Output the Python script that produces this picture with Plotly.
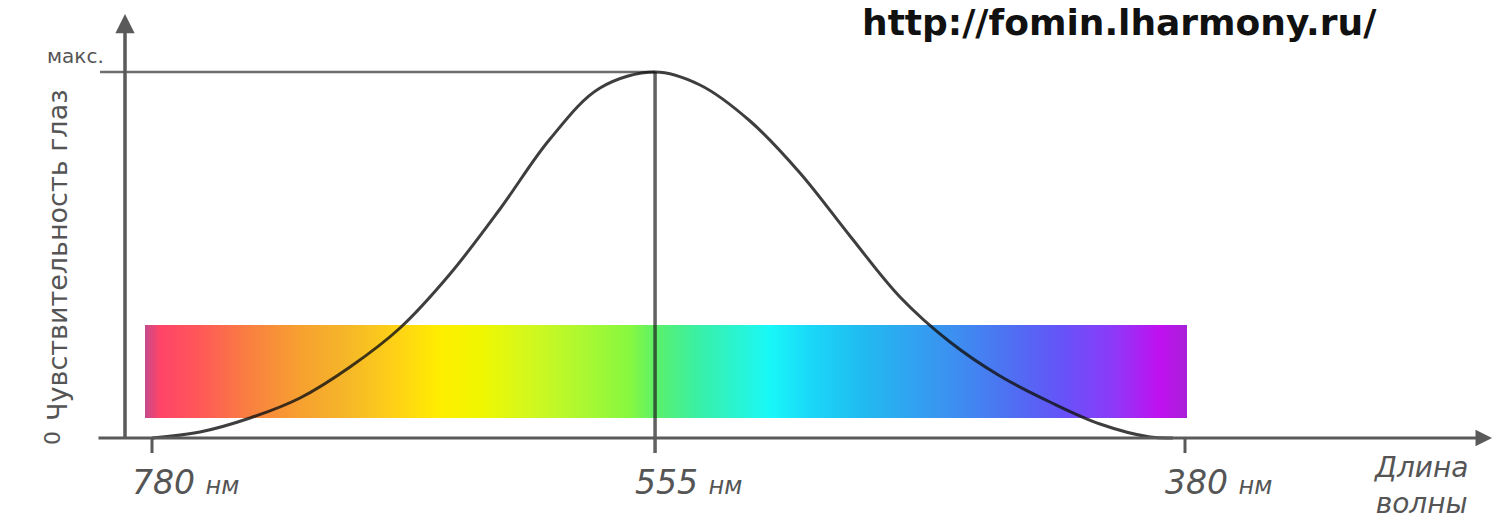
import plotly.graph_objects as go

# ---------------- data ----------------
# schematic wavelength axis: position 0 = 780 nm tick, 1 = 380 nm tick
WAVELENGTH_LABELS = ["780 нм", "555 нм", "380 нм"]
WAVELENGTH_POS = [0.0, 0.487, 1.0]
PEAK_POS = 0.487

# eye sensitivity curve (pixel readings, converted below)
CURVE_PX_X = [152, 200, 250, 300, 350, 400, 450, 500, 550, 600, 655,
              700, 750, 800, 850, 900, 950, 1000, 1050, 1100, 1150, 1173]
CURVE_PX_Y = [438, 432, 418, 398, 367, 328, 274, 209, 139, 88, 72,
              85, 121, 173, 236, 297, 342, 376, 402, 424, 437, 438]

# spectrum band colours (left = red, right = violet)
SPECTRUM_STOPS = [0.0, 0.0144, 0.0528, 0.1008, 0.1488, 0.1967, 0.2447, 0.2831,
                  0.3215, 0.3695, 0.4175, 0.4655, 0.4942, 0.5326, 0.5710, 0.5998,
                  0.6382, 0.6862, 0.7342, 0.7821, 0.8301, 0.8781, 0.9261, 0.9741, 1.0]
SPECTRUM_COLORS = ["#c44a8c", "#ff4468", "#ff5858", "#f98040", "#f7a030", "#f5b828",
                   "#ffd414", "#ffee00", "#f0f600", "#d2f81e", "#aef830", "#86f840",
                   "#58f070", "#38f0a8", "#28f4d4", "#18f8f8", "#1ad8f8", "#20bcf0",
                   "#30a4f0", "#3e8cf0", "#4e70f2", "#6454f8", "#8a3cf8", "#c010f0",
                   "#a820d8"]

Y_LABEL = "Чувствительность глаз"
Y_MAX_LABEL = "макс."
Y_ZERO_LABEL = "0"
X_TITLE = "<i>Длина<br>волны</i>"
URL_TEXT = "http://fomin.lharmony.ru/"

# ---------------- layout geometry ----------------
W, H = 1509, 520
X0_PX, X1_PX = 152, 1185          # pixel of position 0 and 1
Y0_PX, Y1_PX = 438, 72            # pixel of sensitivity 0 and 1
sx = (X1_PX - X0_PX)
sy = (Y0_PX - Y1_PX)
x_range = [-X0_PX / sx, (W - X0_PX) / sx]
y_range = [-(H - Y0_PX) / sy, Y0_PX / sy]


def px_x(p):
    return (p - X0_PX) / sx


def px_y(p):
    return (Y0_PX - p) / sy


curve_pos = [px_x(v) for v in CURVE_PX_X]
sensitivity = [px_y(v) for v in CURVE_PX_Y]

AXIS_COLOR = "#5a5a5a"
TEXT_COLOR = "#555555"

band_l, band_r = px_x(145), px_x(1187)
band_b, band_t = px_y(418), px_y(325)

fig = go.Figure()

# spectrum band
fig.add_trace(go.Scatter(
    x=[band_l, band_r, band_r, band_l, band_l],
    y=[band_b, band_b, band_t, band_t, band_b],
    mode="lines", line=dict(width=0), fill="toself",
    fillgradient=dict(type="horizontal",
                      colorscale=[[s, c] for s, c in zip(SPECTRUM_STOPS, SPECTRUM_COLORS)]),
    hoverinfo="skip", showlegend=False,
))

# max reference line
fig.add_trace(go.Scatter(
    x=[px_x(100), PEAK_POS], y=[1.0, 1.0], mode="lines",
    line=dict(color="#6e6e6e", width=2.5), hoverinfo="skip", showlegend=False))

# peak vertical line
fig.add_trace(go.Scatter(
    x=[PEAK_POS, PEAK_POS], y=[1.0, px_y(453)], mode="lines",
    line=dict(color="rgba(30,30,30,0.7)", width=3.5), hoverinfo="skip", showlegend=False))

# ticks at the band ends
for p in (WAVELENGTH_POS[0], WAVELENGTH_POS[2]):
    fig.add_trace(go.Scatter(
        x=[p, p], y=[0, px_y(453)], mode="lines",
        line=dict(color=AXIS_COLOR, width=3), hoverinfo="skip", showlegend=False))

# sensitivity curve
fig.add_trace(go.Scatter(
    x=curve_pos, y=sensitivity, mode="lines", line_shape="spline",
    line=dict(color="rgba(20,20,20,0.82)", width=3, smoothing=1.0),
    hoverinfo="skip", showlegend=False))

annotations = []
# x axis arrow
annotations.append(dict(x=px_x(1492), y=0, ax=px_x(97), ay=0, xref="x", yref="y",
                        axref="x", ayref="y", showarrow=True, arrowhead=2,
                        arrowsize=1.1, arrowwidth=3, arrowcolor=AXIS_COLOR, text=""))
# y axis arrow
annotations.append(dict(x=px_x(125), y=px_y(14), ax=px_x(125), ay=px_y(440), xref="x",
                        yref="y", axref="x", ayref="y", showarrow=True, arrowhead=2,
                        arrowsize=1.1, arrowwidth=3.5, arrowcolor=AXIS_COLOR, text=""))

# wavelength labels
for lab, p in zip(WAVELENGTH_LABELS, WAVELENGTH_POS):
    num, unit = lab.split(" ")
    annotations.append(dict(
        x=p, y=0, xref="x", yref="y", xshift=33, yshift=-44, showarrow=False,
        xanchor="center", yanchor="middle",
        text=f"<i>{num} <span style='font-size:24px'>{unit}</span></i>",
        font=dict(family="DejaVu Sans", size=33, color=TEXT_COLOR)))

# y labels
annotations.append(dict(x=px_x(106), y=1.0, xref="x", yref="y", showarrow=False,
                        xanchor="right", yanchor="bottom", yshift=2, text=Y_MAX_LABEL,
                        font=dict(family="DejaVu Sans", size=20, color=TEXT_COLOR)))
annotations.append(dict(x=px_x(52), y=0, xref="x", yref="y", showarrow=False,
                        textangle=-90, xanchor="center", yanchor="middle", text=Y_ZERO_LABEL,
                        font=dict(family="DejaVu Sans", size=22, color=TEXT_COLOR)))
annotations.append(dict(x=px_x(57), y=px_y(255), xref="x", yref="y", showarrow=False,
                        textangle=-90, xanchor="center", yanchor="middle", text=Y_LABEL,
                        font=dict(family="DejaVu Sans", size=27, color=TEXT_COLOR)))

# x title
annotations.append(dict(x=1420 / W, y=1 - 485 / H, xref="paper", yref="paper",
                        showarrow=False, xanchor="center", yanchor="middle", text=X_TITLE,
                        font=dict(family="DejaVu Sans", size=28, color=TEXT_COLOR)))

# url
annotations.append(dict(x=1119 / W, y=1 - 23 / H, xref="paper", yref="paper",
                        showarrow=False, xanchor="center", yanchor="middle",
                        text=f"<b>{URL_TEXT}</b>",
                        font=dict(family="DejaVu Sans", size=36, color="#111111")))

fig.update_layout(
    width=W, height=H, margin=dict(l=0, r=0, t=0, b=0),
    paper_bgcolor="white", plot_bgcolor="white",
    xaxis=dict(range=x_range, visible=False, fixedrange=True),
    yaxis=dict(range=y_range, visible=False, fixedrange=True),
    annotations=annotations, showlegend=False,
)

fig.write_html("out.html", config={"displayModeBar": False},
               post_script="document.body.style.margin='0';")
